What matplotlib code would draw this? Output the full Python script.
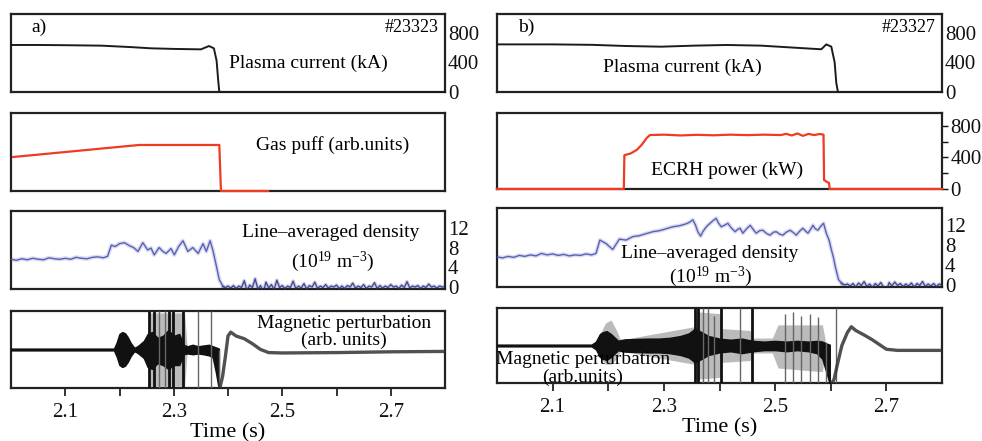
import matplotlib
matplotlib.use("Agg")
import matplotlib.pyplot as plt
import numpy as np

plt.rcParams["font.family"] = ["Liberation Serif", "DejaVu Serif"]
plt.rcParams["mathtext.fontset"] = "custom"
plt.rcParams["mathtext.rm"] = "Liberation Serif"
plt.rcParams["mathtext.it"] = "Liberation Serif:italic"

# ---------------- shot #23323 (gas puff) ----------------
ip_a_t = [2.000, 2.050, 2.100, 2.166, 2.220, 2.258, 2.300, 2.350, 2.365, 2.374, 2.379, 2.382, 2.384, 2.800]
ip_a = [633, 633, 630, 624, 605, 588, 580, 574, 619, 588, 420, 150, 0, 0]

gas_t = [2.004, 2.236, 2.384, 2.387, 2.474]
gas = [0.436, 0.59, 0.59, 0.0, 0.0]

ne_a_t = [2.000, 2.010, 2.020, 2.030, 2.040, 2.050, 2.060, 2.070, 2.080, 2.090,
          2.100, 2.110, 2.120, 2.130, 2.140, 2.150, 2.160, 2.170, 2.178, 2.185,
          2.192, 2.200, 2.209, 2.218, 2.226, 2.234, 2.243, 2.252, 2.258, 2.264,
          2.273, 2.280, 2.286, 2.295, 2.301, 2.309, 2.317, 2.326, 2.335, 2.345,
          2.354, 2.360, 2.367, 2.372, 2.378, 2.384, 2.391]
ne_a = [5.6, 5.4, 5.7, 5.5, 5.8, 5.6, 5.5, 5.9, 5.7, 5.6,
        5.8, 5.6, 6.0, 5.8, 5.7, 6.0, 6.1, 5.9, 6.2, 8.5,
        8.2, 8.8, 9.0, 8.4, 8.0, 7.2, 9.0, 7.5, 7.9, 6.5,
        8.0, 7.2, 6.8, 7.8, 6.5, 8.2, 9.4, 7.2, 8.0, 6.8,
        8.8, 7.2, 9.4, 7.5, 4.5, 1.4, 0.0]
# density after the disruption (noise around zero)
ne_a_tail_t = [2.391, 2.395,
               2.400, 2.405, 2.410, 2.415, 2.420, 2.425, 2.430, 2.435, 2.440, 2.445,
               2.450, 2.455, 2.460, 2.465, 2.470, 2.475, 2.480, 2.485, 2.490, 2.495,
               2.500, 2.505, 2.510, 2.515, 2.520, 2.525, 2.530, 2.535, 2.540, 2.545,
               2.550, 2.555, 2.560, 2.565, 2.570, 2.575, 2.580, 2.585, 2.590, 2.595,
               2.600, 2.605, 2.610, 2.615, 2.620, 2.625, 2.630, 2.635, 2.640, 2.645,
               2.650, 2.655, 2.660, 2.665, 2.670, 2.675, 2.680, 2.685, 2.690, 2.695,
               2.700, 2.705, 2.710, 2.715, 2.720, 2.725, 2.730, 2.735, 2.740, 2.745,
               2.750, 2.755, 2.760, 2.765, 2.770, 2.775, 2.780, 2.785, 2.790, 2.795, 2.800]
ne_a_tail = [0.0, -0.2,
             0.1, -0.3, 0.2, -0.4, 0.1, -0.2, 1.2, -0.8, 0.3, -0.2,
             1.6, -0.5, 0.2, -1.2, 0.9, -0.3, 0.4, -0.6, 1.3, -0.2,
             0.2, -0.4, 0.1, -0.2, 1.1, -0.4, 0.1, -0.3, 0.6, -0.5,
             0.2, -0.1, 0.9, -0.4, 0.1, -0.2, 0.4, -0.3, 0.1, -0.1,
             0.3, -0.4, 0.1, -0.4, 0.2, -0.1, 0.7, -0.3, 0.1, -0.2,
             0.4, -0.4, 0.1, -0.1, 0.8, -0.4, 0.2, -0.3, 0.1, -0.2,
             0.4, -0.1, 0.1, -0.4, 0.3, -0.2, 1.0, -0.3, 0.1, -0.1,
             0.2, -0.4, 0.1, -0.2, 0.5, -0.1, 0.1, -0.3, 0.1, -0.1, 0.0]

# magnetic probe: dense oscillation envelope
mag_a_t = [2.000, 2.190, 2.195, 2.200, 2.205, 2.210, 2.215, 2.220, 2.225, 2.228,
           2.235, 2.245, 2.252, 2.260, 2.270, 2.280, 2.290, 2.300, 2.310, 2.318,
           2.325, 2.335, 2.345, 2.355, 2.365, 2.372, 2.378, 2.383]
mag_a_hi = [0.02, 0.02, 0.18, 0.40, 0.45, 0.42, 0.32, 0.18, 0.08, 0.04,
            0.10, 0.22, 0.40, 0.45, 0.30, 0.35, 0.50, 0.35, 0.40, 0.12,
            0.08, 0.12, 0.08, 0.10, 0.12, 0.08, 0.05, 0.02]
mag_a_lo = [-0.02, -0.02, -0.18, -0.40, -0.45, -0.42, -0.32, -0.18, -0.08, -0.04,
            -0.10, -0.22, -0.45, -0.50, -0.35, -0.40, -0.50, -0.40, -0.40, -0.12,
            -0.10, -0.12, -0.10, -0.12, -0.15, -0.20, -0.60, -1.00]
mag_a_gray_t = [2.250, 2.255, 2.320, 2.325]
mag_a_gray_hi = [0.0, 0.95, 0.95, 0.0]
mag_a_gray_lo = [0.0, -0.95, -0.95, 0.0]
spike_a_t = [2.255, 2.263, 2.292, 2.298, 2.317, 2.272, 2.283, 2.344, 2.369, 2.384]
spike_a_lo = [-1, -1, -1, -1, -1, -1, -1, -1, -1, -1]
spike_a_hi = [1, 1, 1, 1, 1, 1, 1, 1, 1, 0]
spike_a_dark = [1, 1, 1, 1, 1, 0, 0, 0, 0, 0]
relax_a_t = [2.385, 2.390, 2.395, 2.400, 2.405, 2.415, 2.430, 2.445, 2.460, 2.475, 2.500, 2.600, 2.700, 2.800]
relax_a = [-1.0, -0.7, -0.2, 0.35, 0.45, 0.35, 0.28, 0.15, 0.0, -0.08, -0.09, -0.08, -0.06, -0.05]

# ---------------- shot #23327 (ECRH) ----------------
ip_b_t = [2.000, 2.100, 2.170, 2.233, 2.295, 2.354, 2.413, 2.475, 2.534, 2.583, 2.592, 2.601, 2.607, 2.610, 2.613, 2.800]
ip_b = [641, 641, 635, 619, 610, 624, 633, 624, 597, 575, 641, 610, 400, 120, 0, 0]

ecrh_t = [2.000, 2.228, 2.229, 2.240, 2.251, 2.260, 2.269, 2.275, 2.300, 2.330, 2.360, 2.390,
          2.420, 2.450, 2.480, 2.510, 2.520, 2.530, 2.540, 2.550, 2.560, 2.570, 2.580,
          2.587, 2.588, 2.593, 2.597, 2.598, 2.800]
ecrh = [0, 0, 430, 450, 495, 560, 647, 685, 690, 680, 688, 682,
        690, 684, 690, 685, 700, 680, 705, 675, 700, 685, 698,
        690, 114, 90, 76, 0, 0]

ne_b_t = [2.000, 2.010, 2.020, 2.030, 2.040, 2.050, 2.060, 2.070, 2.080, 2.090,
          2.100, 2.110, 2.120, 2.130, 2.140, 2.150, 2.160, 2.170, 2.178, 2.185,
          2.196, 2.208, 2.220, 2.232, 2.244, 2.256, 2.268, 2.280, 2.292, 2.304,
          2.316, 2.328, 2.340, 2.346, 2.352, 2.357, 2.361, 2.366, 2.370, 2.375,
          2.379, 2.383, 2.388, 2.394, 2.398, 2.403, 2.409, 2.415, 2.421, 2.428,
          2.433, 2.437, 2.442, 2.448, 2.455, 2.461, 2.466, 2.472, 2.478, 2.485,
          2.491, 2.497, 2.502, 2.508, 2.514, 2.520, 2.527, 2.533, 2.538, 2.544,
          2.550, 2.555, 2.559, 2.564, 2.568, 2.572, 2.577, 2.582, 2.587, 2.592,
          2.597, 2.601, 2.605, 2.608, 2.614, 2.620]
ne_b = [5.6, 5.4, 5.7, 5.5, 5.9, 5.7, 6.0, 5.8, 6.3, 6.0,
        6.2, 5.9, 6.1, 5.8, 6.0, 5.9, 6.2, 6.0, 6.3, 9.0,
        8.3, 7.1, 9.2, 9.0, 9.7, 9.9, 10.3, 10.7, 10.9, 11.3,
        11.7, 11.9, 12.3, 12.6, 13.1, 12.0, 10.7, 9.8, 10.7, 11.5,
        12.0, 12.4, 12.9, 13.4, 12.5, 11.7, 12.0, 12.4, 11.5, 10.7,
        11.2, 11.4, 10.4, 11.2, 12.0, 11.1, 10.4, 10.9, 11.0, 10.3,
        10.0, 10.6, 10.7, 10.2, 10.0, 10.6, 11.0, 10.5, 10.0, 10.8,
        11.4, 10.8, 10.4, 11.2, 12.0, 11.3, 11.0, 11.8, 12.4, 10.4,
        9.0, 7.1, 5.4, 3.7, 1.0, 0.2]
ne_b_tail_t = [2.620, 2.625,
               2.630, 2.635, 2.640, 2.645, 2.650, 2.655, 2.660, 2.665, 2.670, 2.675,
               2.680, 2.685, 2.690, 2.695, 2.700, 2.705, 2.710, 2.715, 2.720, 2.725,
               2.730, 2.735, 2.740, 2.745, 2.750, 2.755, 2.760, 2.765, 2.770, 2.775,
               2.780, 2.785, 2.790, 2.795, 2.800]
ne_b_tail = [0.2, -0.1,
             0.1, -0.3, 0.2, -0.5, 0.3, -0.2, 0.6, -0.4, 0.1, -0.6,
             0.2, -0.3, 0.4, -0.5, -1.2, 0.4, -0.3, 0.5, -0.2, 0.2,
             -0.4, 0.1, -0.3, 0.3, -0.5, 0.2, -0.2, 0.6, -0.4, 0.1,
             -0.3, 0.2, -0.4, 0.1, -0.2]

mag_b_t = [2.000, 2.170, 2.178, 2.185, 2.190, 2.197, 2.205, 2.212, 2.218, 2.222,
           2.230, 2.250, 2.270, 2.290, 2.310, 2.330, 2.345, 2.352, 2.356,
           2.380, 2.400, 2.420, 2.440, 2.460, 2.480, 2.500, 2.520, 2.540, 2.560,
           2.575, 2.585, 2.592, 2.598]
mag_b_hi = [0.02, 0.02, 0.10, 0.30, 0.35, 0.38, 0.30, 0.20, 0.12, 0.14,
            0.16, 0.17, 0.18, 0.18, 0.20, 0.25, 0.32, 0.40, 0.45,
            0.25, 0.18, 0.15, 0.18, 0.12, 0.10, 0.12, 0.10, 0.12, 0.10,
            0.12, 0.10, 0.05, 0.02]
mag_b_lo = [-0.02, -0.02, -0.10, -0.30, -0.35, -0.38, -0.30, -0.20, -0.12, -0.14,
            -0.16, -0.17, -0.18, -0.18, -0.20, -0.25, -0.32, -0.40, -0.45,
            -0.25, -0.18, -0.15, -0.20, -0.15, -0.12, -0.12, -0.15, -0.12, -0.15,
            -0.20, -0.35, -0.70, -1.00]
mag_b_gray_t = [2.185, 2.195, 2.205, 2.215, 2.222, 2.354, 2.358, 2.400, 2.405,
                2.455, 2.460, 2.495, 2.505, 2.585, 2.590]
mag_b_gray_hi = [0.30, 0.60, 0.68, 0.40, 0.15, 0.50, 0.90, 0.85, 0.45,
                 0.40, 0.20, 0.20, 0.55, 0.55, 0.15]
mag_b_gray_lo = [-0.30, -0.50, -0.50, -0.35, -0.15, -0.50, -0.90, -0.85, -0.45,
                 -0.40, -0.20, -0.20, -0.60, -0.70, -0.15]
spike_b_t = [2.356, 2.362, 2.403, 2.458, 2.371, 2.379, 2.390, 2.437, 2.518, 2.532, 2.547, 2.563, 2.577, 2.592, 2.610]
spike_b_lo = [-1, -1, -1, -1, -1, -1, -1, -1, -1, -1, -1, -1, -1, -1, -1]
spike_b_hi = [1, 1, 1, 1, 1, 1, 0.8, 1, 0.85, 0.9, 0.8, 0.85, 0.75, 0.1, 1]
spike_b_dark = [1, 1, 1, 1, 0, 0, 0, 0, 0, 0, 0, 0, 0, 0, 0]
relax_b_t = [2.602, 2.606, 2.612, 2.620, 2.630, 2.637, 2.645, 2.660, 2.675, 2.690, 2.700, 2.720, 2.800]
relax_b = [-1.0, -0.9, -0.5, 0.0, 0.35, 0.50, 0.40, 0.28, 0.15, 0.0, -0.10, -0.13, -0.13]

time_ticks = [2.1, 2.2, 2.3, 2.4, 2.5, 2.6, 2.7]
time_labels = ["2.1", "", "2.3", "", "2.5", "", "2.7"]

RED = "#ee3b22"
BLUE = "#5a60b8"
NAVY = "#2e3588"
INK = "#1c1c1c"

W, H = 982, 441
fig = plt.figure(figsize=(W / 100, H / 100), dpi=100)


def make_ax(x0, x1, y0, y1):
    ax = fig.add_axes([x0 / W, 1 - y1 / H, (x1 - x0) / W, (y1 - y0) / H])
    ax.set_xlim(2.0, 2.8)
    for s in ax.spines.values():
        s.set_linewidth(1.6)
        s.set_color("#222222")
    ax.set_xticks([])
    ax.set_yticks([])
    return ax


def right_labels(ax, ticks, labels, length=0):
    ax.yaxis.tick_right()
    ax.set_yticks(ticks)
    ax.set_yticklabels(labels)
    ax.tick_params(axis="y", which="both", length=length, width=1.0, pad=2,
                   labelsize=15, direction="out", colors="#111111")


def draw_column(x0, x1, rows, ip_t, ip, tag, shot, second_t, second, second_ylim,
                second_ticks, second_labels, second_tick_len, ne_t, ne, tail_t, tail,
                mag_t, mag_hi, mag_lo, g_t, g_hi, g_lo,
                sp_t, sp_lo, sp_hi, sp_dark, rl_t, rl, texts):
    # plasma current
    ax1 = make_ax(x0, x1, *rows[0])
    ax1.set_ylim(0, 1050)
    ax1.plot(ip_t, ip, color=INK, lw=1.4, zorder=3, clip_on=False)
    right_labels(ax1, [0, 400, 800], ["0", "400", "800"])
    ax1.text(0.047, 0.83, tag, transform=ax1.transAxes, fontsize=14,
             ha="left", va="center")
    ax1.text(0.985, 0.83, shot, transform=ax1.transAxes, fontsize=13,
             ha="right", va="center")
    tx, ty, s = texts[0]
    ax1.text(tx, ty, s, transform=ax1.transAxes, fontsize=14, ha="center", va="center")

    # gas puff / ECRH
    ax2 = make_ax(x0, x1, *rows[1])
    ax2.set_ylim(*second_ylim)
    ax2.plot(second_t, second, color=RED, lw=1.6, zorder=3, clip_on=False)
    if second_ticks:
        right_labels(ax2, second_ticks, second_labels, length=second_tick_len)
    tx, ty, s = texts[1]
    ax2.text(tx, ty, s, transform=ax2.transAxes, fontsize=14, ha="center", va="center")

    # density
    ax3 = make_ax(x0, x1, *rows[2])
    ax3.set_ylim(-0.5, 15.5)
    ax3.plot(ne_t, ne, color=BLUE, lw=3.0, alpha=0.22, zorder=2)
    ax3.plot(ne_t, ne, color=BLUE, lw=1.0, zorder=3)
    ax3.plot(tail_t, tail, color=NAVY, lw=2.6, alpha=0.25, zorder=2)
    ax3.plot(tail_t, tail, color=NAVY, lw=0.9, alpha=0.9, zorder=3)
    right_labels(ax3, [0, 4, 8, 12], ["0", "4", "8", "12"])
    for tx, ty, s in texts[2]:
        ax3.text(tx, ty, s, transform=ax3.transAxes, fontsize=14, ha="center", va="center")

    # magnetic perturbation
    ax4 = make_ax(x0, x1, *rows[3])
    ax4.set_ylim(-1, 1)
    ax4.fill_between(g_t, g_lo, g_hi, color="#555555", alpha=0.4, lw=0, zorder=2)
    ax4.fill_between(mag_t, mag_lo, mag_hi, color="#111111", lw=1.2,
                     edgecolor="#111111", zorder=3)
    for t, lo, hi, dk in zip(sp_t, sp_lo, sp_hi, sp_dark):
        ax4.vlines(t, lo, hi, color="#111111" if dk else "#666666",
                   lw=2.0 if dk else 1.0, zorder=3)
    ax4.plot(rl_t, rl, color="#333333", lw=2.4, alpha=0.85, zorder=3)
    ax4.set_xticks(time_ticks)
    ax4.set_xticklabels(time_labels)
    ax4.tick_params(axis="x", length=6, width=1.2, direction="out", labelsize=15,
                    pad=5, colors="#111111")
    ax4.set_xlabel("Time (s)", fontsize=16, labelpad=1)
    for tx, ty, s in texts[3]:
        ax4.text(tx, ty, s, transform=ax4.transAxes, fontsize=14, ha="center", va="center")
    return ax1, ax2, ax3, ax4


density_unit = r"(10$^{19}$ m$^{-3}$)"

draw_column(11, 445, [(14, 92), (113, 191), (211, 289), (311, 388)],
            ip_a_t, ip_a, "a)", "#23323",
            gas_t, gas, (0, 1), None, None, 0,
            ne_a_t, ne_a, ne_a_tail_t, ne_a_tail,
            mag_a_t, mag_a_hi, mag_a_lo, mag_a_gray_t, mag_a_gray_hi, mag_a_gray_lo,
            spike_a_t, spike_a_lo, spike_a_hi, spike_a_dark, relax_a_t, relax_a,
            [(0.685, 0.37, "Plasma current (kA)"),
             (0.74, 0.59, "Gas puff (arb.units)"),
             [(0.737, 0.73, "Line–averaged density"), (0.74, 0.35, density_unit)],
             [(0.767, 0.84, "Magnetic perturbation"), (0.767, 0.62, "(arb. units)")]])

draw_column(497, 942, [(14, 92), (113, 189), (208, 287), (308, 383)],
            ip_b_t, ip_b, "b)", "#23327",
            ecrh_t, ecrh, (0, 965), [0, 200, 400, 600, 800], ["0", "", "400", "", "800"], 4,
            ne_b_t, ne_b, ne_b_tail_t, ne_b_tail,
            mag_b_t, mag_b_hi, mag_b_lo, mag_b_gray_t, mag_b_gray_hi, mag_b_gray_lo,
            spike_b_t, spike_b_lo, spike_b_hi, spike_b_dark, relax_b_t, relax_b,
            [(0.416, 0.31, "Plasma current (kA)"),
             (0.516, 0.25, "ECRH power (kW)"),
             [(0.479, 0.43, "Line–averaged density"), (0.479, 0.13, density_unit)],
             [(0.193, 0.31, "Magnetic perturbation"), (0.193, 0.07, "(arb.units)")]])

fig.savefig("out.png", dpi=100)
